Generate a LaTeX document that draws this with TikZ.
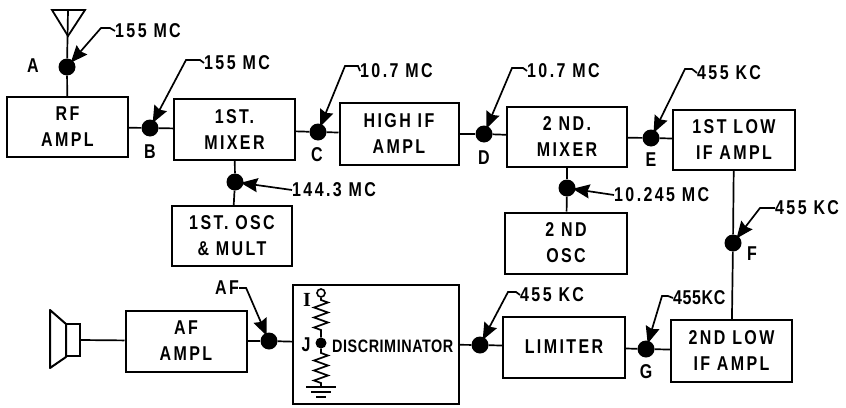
\documentclass[tikz,border=0pt]{standalone}
\usepackage{fontspec}
\setmainfont[FakeStretch=0.8,LetterSpace=12]{Liberation Sans}
\newfontfamily\serifI{Liberation Serif}
\usetikzlibrary{arrows.meta,decorations.pathmorphing}

\tikzset{
    block/.style={draw, line width=2pt, minimum width=#1, align=center, inner sep=0pt},
    block/.default=120pt,
    testpoint/.style={circle, fill=black, minimum size=17pt, inner sep=0pt},
    freq/.style={anchor=west, inner sep=0pt},
    letter/.style={inner sep=0pt},
    pointer/.style={line width=1.7pt, shorten >=-3pt, -{Stealth[length=17pt,width=14pt,inset=2pt]}},
    wire/.style={line width=1.7pt}
}

\begin{document}
\begin{tikzpicture}[x=1pt, y=-1pt, font=\fontsize{20}{26}\selectfont\bfseries]
    \useasboundingbox (0, 0) rectangle (846, 407);

    % Blocks
    \node[block=121pt, minimum height=60pt] (rf) at (67.5, 127) {RF\\AMPL};
    \node[block=121pt, minimum height=61pt] (mix1) at (234.5, 129.5) {1ST.\\MIXER};
    \node[block=119pt, minimum height=62pt] (highif) at (399, 134) {HIGH IF\\AMPL};
    \node[block=120pt, minimum height=60pt] (mix2) at (567, 137) {2 ND.\\MIXER};
    \node[block=122pt, minimum height=60pt] (lowif1) at (734, 140) {1ST LOW\\IF AMPL};
    \node[block=120pt, minimum height=60pt] (osc1) at (232, 236) {1ST. OSC\\\& MULT};
    \node[block=122pt, minimum height=61pt] (osc2) at (566, 243) {2 ND\\OSC};
    \node[block=121pt, minimum height=61pt] (afamp) at (186, 341) {AF\\AMPL};
    \node[block=166pt, minimum height=119pt] (disc) at (376, 344) {};
    \node[block=122pt, minimum height=61pt] (limiter) at (564, 347) {LIMITER};
    \node[block=121pt, minimum height=62pt] (lowif2) at (731.5, 351) {2ND LOW\\IF AMPL};

    % Test points
    \foreach \name/\x/\y in {a/67/67, b/150/128, c/318/132, d/484/134, e/651/138, f/733/243,
        g/646/349, h/480/345, k/269/341, osca/235/182, oscb/567/188} {
        \node[testpoint] (pt\name) at (\x, \y) {};
    }

    % Antenna
    \coordinate (ant) at (68, 10);
    \draw[line width=1.8pt, line join=miter] (52, 10) -- (85, 10) -- (68, 36) -- cycle;
    \draw[wire] (ant) -- (pta);

    % Speaker
    \coordinate (spk) at (80, 340);
    \draw[line width=2pt, line join=round] (50, 310) -- (66, 324) -- (66, 357) -- (50, 368) -- cycle;
    \draw[line width=2pt] (66, 324) rectangle (80, 356);

    % Connectors
    \foreach \from/\to in {pta/rf, rf/ptb, ptb/mix1, mix1/ptc, ptc/highif, highif/ptd, ptd/mix2,
        mix2/pte, pte/lowif1, mix1/ptosca, ptosca/osc1, mix2/ptoscb, ptoscb/osc2, lowif1/ptf,
        ptf/lowif2, lowif2/ptg, ptg/limiter, limiter/pth, pth/disc, disc/ptk, ptk/afamp, afamp/spk} {
        \draw[wire] (\from) -- (\to);
    }

    % Frequency labels with their pointers
    \node[freq] (fa) at (115, 31) {155 MC};
    \node[freq] (fb) at (204, 63) {155 MC};
    \node[freq] (fc) at (360, 71) {10.7 MC};
    \node[freq] (fd) at (527, 71) {10.7 MC};
    \node[freq] (fe) at (697, 73) {455 KC};
    \node[freq] (fosca) at (292, 190) {144.3 MC};
    \node[freq] (foscb) at (614, 195) {10.245 MC};
    \node[freq] (ff) at (775, 208) {455 KC};
    \node[freq, font=\fontsize{20}{26}\selectfont\bfseries\addfontfeature{LetterSpace=3}] (fg) at (673, 298) {455KC};
    \node[freq] (fh) at (520, 295) {455 KC};
    \node[freq] (fk) at (215, 288) {AF};

    \draw[pointer] (fa.west) -- ++(-5, -3) -- ++(-9, 0) -- (pta);
    \draw[pointer] (fb.west) -- ++(-4, -3) -- ++(-14, 0) -- (ptb);
    \draw[pointer] (fc.west) -- ++(-2, -5) -- ++(-13, 0) -- (ptc);
    \draw[pointer] (fd.west) -- ++(-4, -3) -- ++(-11, 0) -- (ptd);
    \draw[pointer] (fe.west) -- ++(-5, -4) -- ++(-7, 0) -- (pte);
    \draw[pointer] (fosca.west) -- (ptosca);
    \draw[pointer] (foscb.west) -- (ptoscb);
    \draw[pointer] (ff.west) -- ++(-15, 0) -- (ptf);
    \draw[pointer] (fg.west) -- ++(-5, -2) -- ++(-6, 0) -- (ptg);
    \draw[pointer] (fh.west) -- ++(-4, -3) -- ++(-8, 0) -- (pth);
    \draw[pointer] (fk.east) -- ++(7, 0) -- (ptk);

    % Test point letters
    \node[letter] (la) at (33, 66) {A};
    \node[letter] (lb) at (150, 152) {B};
    \node[letter] (lc) at (317, 155) {C};
    \node[letter] (ld) at (484, 158) {D};
    \node[letter] (le) at (651, 160) {E};
    \node[letter] (lf) at (752, 254) {F};
    \node[letter] (lg) at (646, 372) {G};

    % Inside the discriminator
    \node[testpoint, minimum size=11pt] (ptj) at (321, 343) {};
    \node[circle, draw, line width=1.6pt, minimum size=8pt, inner sep=0pt] (termi) at (321, 293) {};
    \node[letter] (li) at (307, 300) {\serifI I};
    \node[letter] (lj) at (306, 345) {J};
    \node[letter, anchor=west, font=\fontsize{18}{20}\selectfont\bfseries\addfontfeature{LetterSpace=3}] (ldisc) at (332, 346) {DISCRIMINATOR};
    \coordinate (gnd) at (321, 387);
    \draw[wire, decoration={zigzag, amplitude=7pt, segment length=10pt}]
        (termi) -- (321, 300) decorate {-- (321, 333)} -- (ptj);
    \draw[wire, decoration={zigzag, amplitude=7pt, segment length=10pt}]
        (ptj) -- (321, 353) decorate {-- (321, 385)} -- (gnd);
    \draw[wire] (gnd) ++(-15, 0) -- ++(30, 0);
    \draw[wire] (gnd) ++(-10, 5) -- ++(20, 0);
    \draw[wire] (gnd) ++(-5, 10) -- ++(10, 0);
\end{tikzpicture}
\end{document}
